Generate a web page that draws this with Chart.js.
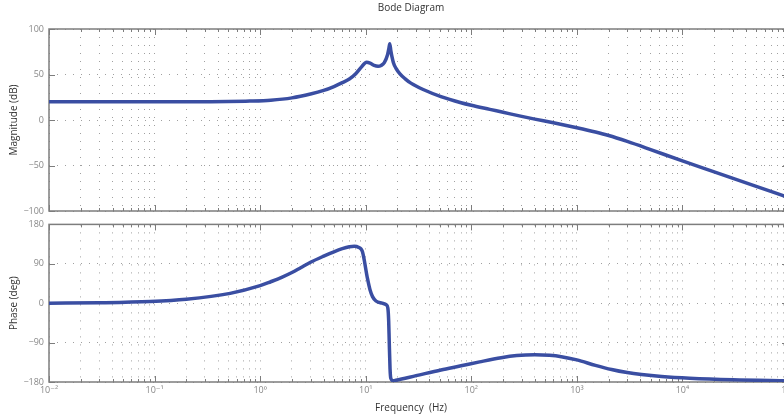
<!DOCTYPE html>
<html>
<head>
<meta charset="utf-8">
<script src="https://cdn.jsdelivr.net/npm/chart.js@4.4.1/dist/chart.umd.min.js"></script>
<style>
  html, body { margin: 0; padding: 0; background: #fff; overflow: hidden; }
  #wrap { position: relative; width: 784px; height: 419px; overflow: hidden; }
  #magChart { position: absolute; left: 0; top: 0; }
  #phaseChart { position: absolute; left: 0; top: 214px; }
</style>
</head>
<body>
<div id="wrap">
  <canvas id="magChart" width="822" height="224"></canvas>
  <canvas id="phaseChart" width="822" height="205"></canvas>
</div>
<script>
'use strict'

// magnitude curve
const magFreqHz = [0.01, 0.05, 0.2, 0.3, 0.5, 0.8, 1.26, 2, 3, 4, 5, 6, 7, 8, 9, 10.2, 11, 12, 13.1, 14, 15, 16.1, 16.6, 16.9, 17.3, 17.7, 18.3, 19.3, 21, 23.5, 26.8, 35, 51.6, 80, 100, 150, 200, 300, 400, 600, 1000, 1500, 2000, 3000, 5000, 10000, 20000, 50000, 100000];
const magDb = [20, 20, 20, 20.1, 20.3, 20.8, 21.8, 24.3, 28.5, 32.5, 36.8, 41, 45, 50.5, 57.5, 63.5, 62.5, 60, 59, 60, 63, 71.7, 79, 83.8, 76, 70, 63, 57, 51, 45.5, 40.5, 33.5, 25.7, 19, 16.2, 11.7, 8.5, 4, 1, -3, -8.5, -13.2, -17, -23.5, -32.5, -45, -57, -73, -85];

// phase curve
const phaseFreqHz = [0.01, 0.03, 0.091, 0.2, 0.52, 1.0, 1.26, 1.6, 2, 2.42, 3, 4, 5, 6, 7, 7.8, 8.5, 9.3, 10.4, 11, 11.6, 12.5, 14.3, 15.7, 16.2, 16.5, 16.7, 17.0, 17.3, 18.2, 19.3, 30, 51.6, 80, 120, 192, 270, 400, 550, 713, 1000, 1500, 2130, 3000, 4100, 6350, 11700, 30000, 100000];
const phaseDeg = [0, 1, 3.8, 9, 22.5, 40, 49, 59, 70, 81, 93.5, 107.5, 117.5, 124.5, 128.8, 130, 128, 118, 56, 30, 15, 5, 0, -3.7, -11, -40, -86, -150, -172, -177, -176, -165.5, -152.5, -143, -134, -124.5, -119.7, -117.8, -119.1, -122.2, -129.5, -142, -151.5, -158.5, -163, -167.5, -171.5, -175, -177];

const magTicks = [-100, -50, 0, 50, 100];
const phaseTicks = [-180, -90, 0, 90, 180];
const freqDecades = [-2, -1, 0, 1, 2, 3, 4, 5];

const lineColor = '#3a4ea2';
const frameColor = '#7d7d7d';
const gridColor = '#a0a0a0';
const labelColor = '#888888';

Chart.defaults.font.family = "'Open Sans', 'DejaVu Sans', sans-serif";

const supMap = {'-': '⁻', '0': '⁰', '1': '¹', '2': '²', '3': '³', '4': '⁴', '5': '⁵'};

function isDecade(v) {
  const l = Math.log10(v);
  return Math.abs(l - Math.round(l)) < 1e-9;
}

function freqLabel(v) {
  if (!isDecade(v)) return '';
  const e = String(Math.round(Math.log10(v)));
  return '10' + e.split('').map(c => supMap[c]).join('');
}

function freqTickValues() {
  let out = [];
  for (let i = 0; i < freqDecades.length - 1; i++) {
    for (let m = 1; m < 10; m++) {
      out.push(Number((m * Math.pow(10, freqDecades[i])).toPrecision(3)));
    }
  }
  out.push(Math.pow(10, freqDecades[freqDecades.length - 1]));
  return out;
}

function points(xs, ys) {
  return xs.map((x, i) => ({x: x, y: ys[i]}));
}

// frame and inward tick marks, matlab style
const framePlugin = {
  id: 'frame',
  beforeDatasetsDraw(chart) {
    const {ctx, chartArea: a, scales} = chart;
    ctx.save();
    ctx.strokeStyle = frameColor;
    ctx.lineWidth = 1;
    ctx.beginPath();
    scales.x.ticks.forEach(t => {
      const px = Math.round(scales.x.getPixelForValue(t.value)) + 0.5;
      const len = isDecade(t.value) ? 6 : 3;
      ctx.moveTo(px, a.top); ctx.lineTo(px, a.top + len);
      ctx.moveTo(px, a.bottom); ctx.lineTo(px, a.bottom - len);
    });
    scales.y.ticks.forEach(t => {
      const py = Math.round(scales.y.getPixelForValue(t.value)) + 0.5;
      ctx.moveTo(a.left, py); ctx.lineTo(a.left + 6, py);
      ctx.moveTo(a.right, py); ctx.lineTo(a.right - 6, py);
    });
    ctx.stroke();
    ctx.lineWidth = 1.5;
    ctx.strokeRect(a.left, a.top, a.right - a.left, a.bottom - a.top);
    ctx.restore();
  }
};

function makeOptions(yTicks, yTitle, showX) {
  return {
    responsive: false,
    animation: false,
    layout: { padding: showX ? {top: 8, bottom: 0} : {top: 0, bottom: 13} },
    plugins: {
      legend: { display: false },
      tooltip: { enabled: false },
      title: showX ? {
        display: true, text: 'Frequency  (Hz)', position: 'bottom', color: '#333',
        font: {size: 10, weight: 'normal', lineHeight: 1}, padding: {top: 0, bottom: 6}
      } : {
        display: true, text: 'Bode Diagram', color: '#333',
        font: {size: 10, weight: 'normal', lineHeight: 1}, padding: {top: 3, bottom: 16}
      }
    },
    scales: {
      x: {
        type: 'logarithmic',
        min: Math.pow(10, freqDecades[0]),
        max: Math.pow(10, freqDecades[freqDecades.length - 1]),
        afterBuildTicks: s => { s.ticks = freqTickValues().map(v => ({value: v})); },
        afterFit: s => { s.height = showX ? 21 : 0; },
        grid: { color: gridColor, lineWidth: 1, drawTicks: false },
        border: { display: false, dash: [1, 7] },
        ticks: {
          display: showX, autoSkip: false, maxRotation: 0, padding: 3,
          color: labelColor, font: {size: 9},
          callback: v => freqLabel(v)
        }
      },
      y: {
        type: 'linear',
        min: yTicks[0],
        max: yTicks[yTicks.length - 1],
        afterBuildTicks: s => { s.ticks = yTicks.map(v => ({value: v})); },
        afterFit: s => { s.width = 49; },
        grid: { color: gridColor, lineWidth: 1, drawTicks: false },
        border: { display: false, dash: [1, 7] },
        ticks: {
          padding: 5, color: labelColor, font: {size: 9},
          callback: v => String(v).replace('-', '−')
        },
        title: {
          display: true, text: yTitle, color: '#333',
          font: {size: 10, lineHeight: 1.2}, padding: {top: 8, bottom: 0}
        }
      },
      yPad: {
        type: 'linear',
        position: 'right',
        grid: { display: false },
        border: { display: false },
        ticks: { display: false },
        afterFit: s => { s.width = 34; }
      }
    }
  };
}

function makeDataset(xs, ys) {
  return {
    data: points(xs, ys),
    xAxisID: 'x',
    yAxisID: 'y',
    borderColor: lineColor,
    borderWidth: 3.5,
    pointRadius: 0,
    fill: false,
    cubicInterpolationMode: 'monotone'
  };
}

new Chart(document.getElementById('magChart'), {
  type: 'line',
  data: { datasets: [makeDataset(magFreqHz, magDb)] },
  options: makeOptions(magTicks, 'Magnitude (dB)', false),
  plugins: [framePlugin]
});

new Chart(document.getElementById('phaseChart'), {
  type: 'line',
  data: { datasets: [makeDataset(phaseFreqHz, phaseDeg)] },
  options: makeOptions(phaseTicks, 'Phase (deg)', true),
  plugins: [framePlugin]
});
</script>
</body>
</html>
